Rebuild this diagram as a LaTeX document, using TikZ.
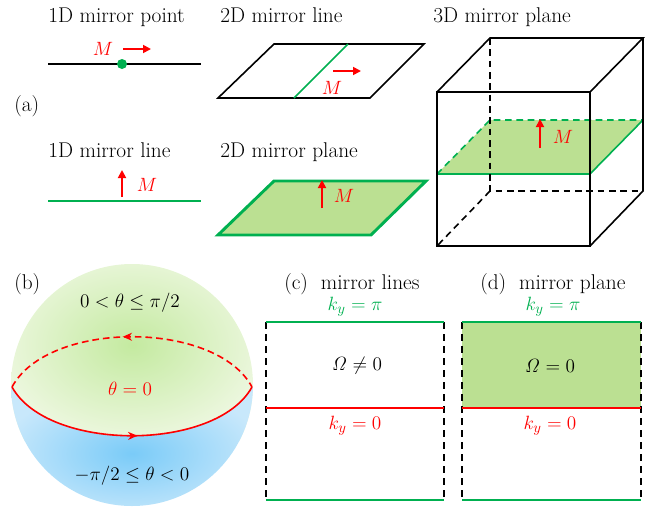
\documentclass[tikz,border=0pt]{standalone}
\usetikzlibrary{arrows.meta,decorations.markings}
\definecolor{mgreen}{RGB}{0,176,80}
\definecolor{mfill}{RGB}{187,224,146}
\definecolor{mred}{RGB}{255,0,0}
\begin{document}
\begin{tikzpicture}[x=0.75pt,y=-0.75pt,
  font=\fontsize{15}{18}\selectfont,
  title/.style={inner sep=0pt, anchor=base west, font=\fontsize{16}{19}\selectfont},
  mlabel/.style={inner sep=0pt, text=mred},
  marrow/.style={draw=mred, line width=1.3pt, -{Triangle[length=6pt,width=6pt]}},
  blk/.style={draw=black, line width=1.2pt, line join=miter},
  blkd/.style={blk, dash pattern=on 5pt off 3.5pt},
  gline/.style={draw=mgreen, line width=1.2pt},
  rline/.style={draw=mred, line width=1.2pt},
  sidedash/.style={draw=black, line width=1.1pt, dash pattern=on 5pt off 4pt},
]
\useasboundingbox (0,0) rectangle (654,508);

% ---------- (a) ----------
\node[title] (t1) at (48,22) {1D mirror point};
\node[title] (t2) at (220,22) {2D mirror line};
\node[title] (t3) at (433,22) {3D mirror plane};
\node[title] (ta) at (14,111) {(a)};
\node[title] (t4) at (48,157) {1D mirror line};
\node[title] (t5) at (220,157) {2D mirror plane};

% 1D mirror point
\coordinate (p1a) at (48,64);
\coordinate (p1b) at (201,64);
\draw[blk] (p1a) -- (p1b);
\node[circle, fill=mgreen, inner sep=0pt, minimum size=7.5pt] (dot) at (122,64) {};
\node[mlabel] (m1) at (103,49) {$M$};
\coordinate (a1s) at (123,49);
\coordinate (a1e) at (151,49);
\draw[marrow] (a1s) -- (a1e);

% 1D mirror line
\coordinate (l1a) at (48,201);
\coordinate (l1b) at (201,201);
\draw[gline] (l1a) -- (l1b);
\coordinate (a2s) at (122,197);
\coordinate (a2e) at (122,170);
\draw[marrow] (a2s) -- (a2e);
\node[mlabel] (m2) at (147,185) {$M$};

% 2D mirror line
\coordinate (q1) at (274,44);
\coordinate (q2) at (424,44);
\coordinate (q3) at (370,98);
\coordinate (q4) at (218,98);
\draw[blk] (q1) -- (q2) -- (q3) -- (q4) -- cycle;
\coordinate (g1) at (348,44);
\coordinate (g2) at (294,98);
\draw[gline] (g1) -- (g2);
\coordinate (a3s) at (333,71);
\coordinate (a3e) at (361,71);
\draw[marrow] (a3s) -- (a3e);
\node[mlabel] (m3) at (332,88) {$M$};

% 2D mirror plane
\coordinate (r1) at (274,181);
\coordinate (r2) at (426,181);
\coordinate (r3) at (371,235);
\coordinate (r4) at (218,235);
\draw[draw=mgreen, fill=mfill, line width=2.2pt, line join=miter] (r1) -- (r2) -- (r3) -- (r4) -- cycle;
\coordinate (a4s) at (322,208);
\coordinate (a4e) at (322,180);
\draw[marrow] (a4s) -- (a4e);
\node[mlabel] (m4) at (344,196) {$M$};

% 3D mirror plane (cube)
\coordinate (f1) at (437,92);
\coordinate (f2) at (590,92);
\coordinate (f3) at (590,246);
\coordinate (f4) at (437,246);
\coordinate (b1) at (490,38);
\coordinate (b2) at (643,38);
\coordinate (b3) at (643,191);
\coordinate (b4) at (490,191);
% green plane
\coordinate (s1) at (490,120);
\coordinate (s2) at (643,120);
\coordinate (s3) at (590,174);
\coordinate (s4) at (437,174);
\fill[mfill] (s1) -- (s2) -- (s3) -- (s4) -- cycle;
\draw[gline, dash pattern=on 5pt off 3.5pt] (s4) -- (s1) -- (s2);
\draw[gline] (s2) -- (s3) -- (s4);
% hidden edges
\draw[blkd] (b1) -- (b4) -- (b3);
\draw[blkd] (b4) -- (f4);
% visible edges
\draw[blk] (f1) -- (f2) -- (f3) -- (f4) -- cycle;
\draw[blk] (f1) -- (b1) -- (b2) -- (f2);
\draw[blk] (b2) -- (b3) -- (f3);
\coordinate (a5s) at (540,148);
\coordinate (a5e) at (540,119);
\draw[marrow] (a5s) -- (a5e);
\node[mlabel] (m5) at (563,137) {$M$};

% ---------- (b) sphere ----------
\coordinate (sc) at (132,385);
\coordinate (eqL) at (12,387);
\coordinate (eqR) at (252,387);
\begin{scope}
  \clip (sc) circle[radius=121];
  \shade[inner color={rgb,255:red,196;green,234;blue,160}, outer color={rgb,255:red,236;green,247;blue,222}]
    (0,250) rectangle (264,440);
  \shade[inner color={rgb,255:red,122;green,203;blue,248}, outer color={rgb,255:red,200;green,232;blue,251}]
    (eqL) .. controls (48,452) and (216,452) .. (eqR) -- (264,387) -- (264,520) -- (0,520) -- (0,387) -- cycle;
\end{scope}
\draw[rline, dash pattern=on 5pt off 3pt,
  postaction={decorate, decoration={markings, mark=at position 0.5 with {\arrow[solid]{Stealth[length=7pt,width=6pt,reversed]}}}}]
  (eqL) .. controls (48,320) and (216,320) .. (eqR);
\draw[rline,
  postaction={decorate, decoration={markings, mark=at position 0.52 with {\arrow{Stealth[length=7pt,width=6pt]}}}}]
  (eqL) .. controls (48,452) and (216,452) .. (eqR);
\node[title] (tb) at (14,289) {(b)};
\node[inner sep=0pt] (th1) at (130,303) {$0<\theta\le\pi/2$};
\node[inner sep=0pt, text=mred] (th0) at (130,389) {$\theta=0$};
\node[inner sep=0pt] (th2) at (132,476) {$-\pi/2\le\theta<0$};

% ---------- (c) mirror lines ----------
\node[title] (tc) at (284,289) {(c)\ \ mirror lines};
\coordinate (c1) at (266,322);
\coordinate (c2) at (444,322);
\coordinate (c3) at (444,500);
\coordinate (c4) at (266,500);
\coordinate (cm1) at (266,408);
\coordinate (cm2) at (444,408);
\draw[sidedash] (c1) -- (c4);
\draw[sidedash] (c2) -- (c3);
\draw[gline] (c1) -- (c2);
\draw[gline] (c4) -- (c3);
\draw[rline] (cm1) -- (cm2);
\node[inner sep=0pt, text=mgreen] (kc1) at (355,307) {$k_y=\pi$};
\node[inner sep=0pt] (oc) at (357,366) {$\mathit{\Omega}\neq 0$};
\node[inner sep=0pt, text=mred] (kc0) at (355,426) {$k_y=0$};

% ---------- (d) mirror plane ----------
\node[title] (td) at (480,289) {(d)\ \ mirror plane};
\coordinate (d1) at (462,322);
\coordinate (d2) at (641,322);
\coordinate (d3) at (641,500);
\coordinate (d4) at (462,500);
\coordinate (dm1) at (462,408);
\coordinate (dm2) at (641,408);
\fill[mfill] (d1) rectangle (dm2);
\draw[sidedash] (d1) -- (d4);
\draw[sidedash] (d2) -- (d3);
\draw[gline] (d1) -- (d2);
\draw[gline] (d4) -- (d3);
\draw[rline] (dm1) -- (dm2);
\node[inner sep=0pt, text=mgreen] (kd1) at (553,307) {$k_y=\pi$};
\node[inner sep=0pt] (od) at (550,366) {$\mathit{\Omega}=0$};
\node[inner sep=0pt, text=mred] (kd0) at (550,426) {$k_y=0$};
\end{tikzpicture}
\end{document}
